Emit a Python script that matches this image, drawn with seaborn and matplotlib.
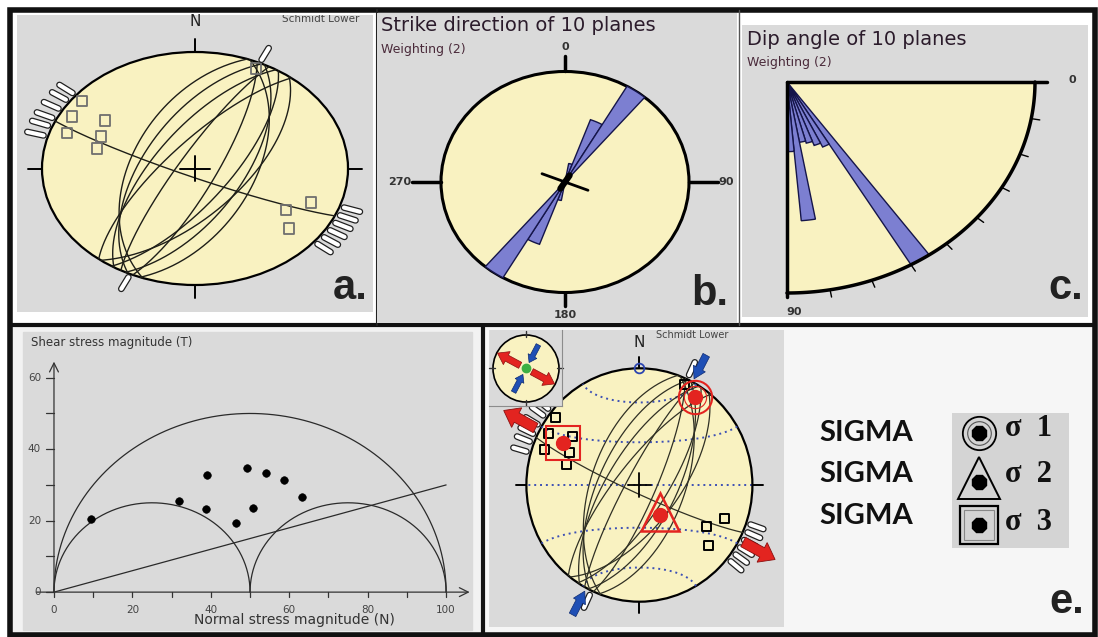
import numpy as np
import matplotlib
matplotlib.use("Agg")
import matplotlib.pyplot as plt
import seaborn as sns
from matplotlib.patches import Circle, Rectangle, FancyArrow

sns.set_style("white")
plt.rcParams["font.family"] = ["DejaVu Sans"]

# ---------------- data ----------------
# fault planes (strike, dip - right hand rule)
plane_strike = [200, 206, 212, 219, 209, 21, 27, 33, 38, 24]
plane_dip = [55, 61, 67, 74, 81, 57, 63, 70, 62, 78]

# open squares (trend / plunge)
pole_trend = [308, 299, 305, 290, 294, 285, 121, 111, 130, 25]
pole_plunge = [7, 9, 29, 12, 33, 34, 31, 20, 21, 6]

# white bars on the primitive (azimuth)
bar_az = [286, 291, 295, 300, 305, 309, 109, 113, 117, 121, 125, 129, 25, 205]

# sigma2 - sigma3 plane
s23_strike, s23_dip = 114, 84

# stress axes sigma1, sigma2, sigma3 (trend, plunge)
sigma_trend = [33, 145, 298]
sigma_plunge = [11, 64, 24]
shmin_az = 298
shmax_az = 28

# rose of strikes (10 deg bins, bidirectional)
strike_bin_lo = [10, 20, 30]
strike_bin_r = [0.17, 0.60, 1.00]

# rose of dips (5 deg bins)
dip_bin_lo = [55, 60, 65, 70, 75, 80, 85]
dip_bin_r = [1.00, 0.34, 0.32, 0.30, 0.29, 0.66, 0.33]

# Mohr diagram
mohr_center = [50, 25, 75]
mohr_radius = [50, 25, 25]
friction_slope = 0.3
normal_stress = [9.4, 31.9, 39.1, 38.8, 46.4, 49.1, 50.7, 54.0, 58.6, 63.3]
shear_stress = [20.5, 25.4, 32.7, 23.4, 19.3, 34.7, 23.5, 33.3, 31.4, 26.7]

# small circles about N axis in panel e
cone_angles = [30, 60, 90, 120, 150]

GRAY = "#dadada"
YELLOW = "#f9f2c1"
ROSE = "#7c7fd1"
RED = "#e32420"
BLUE = "#1f4fb5"

W, H = 1098, 637
fig = plt.figure(figsize=(W / 100, H / 100), dpi=100)
fig.patch.set_facecolor("white")


def add_ax(x0, y0, x1, y1, z=1):
    ax = fig.add_axes([x0 / W, 1 - y1 / H, (x1 - x0) / W, (y1 - y0) / H], zorder=z)
    ax.set_xticks([])
    ax.set_yticks([])
    for s in ax.spines.values():
        s.set_visible(False)
    return ax


def net_axes(box, cx, cy, rx, ry, z=1):
    ax = add_ax(*box, z=z)
    x0, y0, x1, y1 = box
    ax.set_xlim((x0 - cx) / rx, (x1 - cx) / rx)
    ax.set_ylim((cy - y1) / ry, (cy - y0) / ry)
    ax.set_facecolor(GRAY)
    return ax


def proj(trend, plunge):
    t = np.radians(trend)
    p = np.radians(plunge)
    r = np.sqrt(2) * np.sin((np.pi / 2 - p) / 2)
    return r * np.sin(t), r * np.cos(t)


def vec_proj(v):
    trend = np.degrees(np.arctan2(v[:, 0], v[:, 1]))
    plunge = np.degrees(np.arcsin(np.clip(v[:, 2], -1, 1)))
    return proj(trend, plunge)


def great_circle(strike, dip):
    s = np.radians(strike)
    d = np.radians(dip)
    dd = s + np.pi / 2
    a = np.linspace(0, np.pi, 200)
    S = np.array([np.sin(s), np.cos(s), 0])
    D = np.array([np.cos(d) * np.sin(dd), np.cos(d) * np.cos(dd), np.sin(d)])
    v = np.outer(np.cos(a), S) + np.outer(np.sin(a), D)
    return vec_proj(v)


def small_circle_n(alpha):
    a = np.radians(alpha)
    phi = np.linspace(0, np.pi, 200)
    v = np.column_stack([np.sin(a) * np.cos(phi), np.full(phi.size, np.cos(a)), np.sin(a) * np.sin(phi)])
    return vec_proj(v)


def polar(az, r):
    t = np.radians(az)
    return r * np.sin(t), r * np.cos(t)


def primitive(ax, lw=1.6):
    ax.add_patch(Circle((0, 0), 1, facecolor=YELLOW, edgecolor="black", lw=lw, zorder=1))


def bars(ax, r0, r1):
    for az in bar_az:
        x, y = polar(az, np.array([r0, r1]))
        ax.plot(x, y, color="#202020", lw=4.8, solid_capstyle="round", zorder=4, clip_on=False)
        ax.plot(x, y, color="white", lw=3.0, solid_capstyle="round", zorder=5, clip_on=False)


# ---------------- background frames ----------------
bg = fig.add_axes([0, 0, 1, 1], zorder=0)
bg.set_xlim(0, W)
bg.set_ylim(H, 0)
bg.axis("off")
bg.add_patch(Rectangle((12, 327), 469, 305, color="#f2f2f2"))
bg.add_patch(Rectangle((485, 327), 607, 305, color="#f6f6f6"))
bg.add_patch(Rectangle((23, 332), 449, 298, color=GRAY))
bg.add_patch(Rectangle((9.5, 9.5), 1085.5, 625, fill=False, ec="#111", lw=4))
bg.plot([10, 1095], [325, 325], color="#111", lw=3)
bg.plot([376.5, 376.5], [10, 325], color="#222", lw=1.5)
bg.plot([739, 739], [10, 325], color="#555", lw=1)
bg.plot([483, 483], [325, 634], color="#111", lw=3)

# ---------------- a. stereonet ----------------
axa = net_axes((17, 15, 373, 312), 195, 168.5, 153, 116.5)
primitive(axa)
axa.plot([0, 0], [1, 1.11], color="black", lw=1.4)
axa.plot([0, 0], [-1, -1.11], color="black", lw=1.4)
axa.plot([-1, -1.09], [0, 0], color="black", lw=1.4)
axa.plot([1, 1.09], [0, 0], color="black", lw=1.4)
axa.plot([-0.1, 0.1], [0, 0], color="black", lw=1.4, zorder=3)
axa.plot([0, 0], [-0.11, 0.11], color="black", lw=1.4, zorder=3)
for s, d in zip(plane_strike, plane_dip):
    gx, gy = great_circle(s, d)
    axa.plot(gx, gy, color="#1e1e18", lw=1.0, zorder=2)
gx, gy = great_circle(s23_strike, s23_dip)
axa.plot(gx, gy, color="#1e1e18", lw=1.0, zorder=2)
px, py = proj(np.array(pole_trend), np.array(pole_plunge))
axa.scatter(px, py, marker="s", s=55, facecolors="none", edgecolors="#6f6f6f", linewidths=1.3, zorder=3)
bars(axa, 1.03, 1.14)
axa.text(0, 1.26, "N", ha="center", va="center", fontsize=11, color="#222")
axa.text(0.745, 0.987, "Schmidt Lower", transform=axa.transAxes, fontsize=7.5, color="#444",
         ha="left", va="center", clip_on=True)
axa.text(0.985, 0.015, "a.", transform=axa.transAxes, ha="right", va="bottom", fontsize=30,
         fontweight="bold", family="Liberation Sans", color="#222")

# ---------------- b. rose of strikes ----------------
axb = net_axes((377, 13, 737, 323), 565, 182, 124, 110.5)
primitive(axb, lw=2.2)
for lo, r in zip(strike_bin_lo, strike_bin_r):
    for off in (0, 180):
        th = np.linspace(lo + off, lo + off + 10, 20)
        wx, wy = polar(th, r)
        axb.fill(np.r_[0, wx], np.r_[0, wy], facecolor=ROSE, edgecolor="#15154a", lw=1, zorder=2)
cx, cy = polar(np.array([shmin_az - 186, shmin_az - 6]), 0.2)
axb.plot(cx, cy, color="black", lw=2, zorder=3)
cx, cy = polar(np.array([shmax_az + 4, shmax_az + 184]), 0.07)
axb.plot(cx, cy, color="black", lw=4.5, zorder=3)
axb.plot([0, 0], [1, 1.14], color="black", lw=2.5)
axb.plot([0, 0], [-1, -1.12], color="black", lw=2.5)
axb.plot([-1, -1.23], [0, 0], color="black", lw=2.5)
axb.plot([1, 1.23], [0, 0], color="black", lw=2.5)
axb.text(0, 1.22, "0", ha="center", va="center", fontsize=8, fontweight="bold", color="#333")
axb.text(0, -1.2, "180", ha="center", va="center", fontsize=8, fontweight="bold", color="#333")
axb.text(-1.24, 0, "270", ha="right", va="center", fontsize=8, fontweight="bold", color="#333")
axb.text(1.24, 0, "90", ha="left", va="center", fontsize=8, fontweight="bold", color="#333")
axb.text(0.011, 0.961, "Strike direction of 10 planes", transform=axb.transAxes, fontsize=14,
         color="#2b1b2b", ha="left", va="center", clip_on=True)
axb.text(0.011, 0.881, "Weighting (2)", transform=axb.transAxes, fontsize=9,
         color="#4a2a3a", ha="left", va="center")
axb.text(0.975, 0.03, "b.", transform=axb.transAxes, ha="right", va="bottom", fontsize=30,
         fontweight="bold", family="Liberation Sans", color="#222")

# ---------------- c. rose of dips ----------------
axc = add_ax(742, 25, 1088, 317)
axc.set_xlim((742 - 787) / 248, (1088 - 787) / 248)
axc.set_ylim((82 - 317) / 211, (82 - 25) / 211)
axc.set_facecolor(GRAY)
th = np.radians(np.linspace(0, 90, 100))
axc.fill(np.r_[0, np.cos(th)], np.r_[0, -np.sin(th)], facecolor=YELLOW, edgecolor="none", zorder=1)
for lo, r in zip(dip_bin_lo, dip_bin_r):
    t = np.radians(np.linspace(lo, lo + 5, 10))
    axc.fill(np.r_[0, r * np.cos(t)], np.r_[0, -r * np.sin(t)], facecolor=ROSE, edgecolor="#15154a", lw=1, zorder=2)
axc.plot(np.cos(th), -np.sin(th), color="black", lw=2.5, zorder=3)
axc.plot([0, 1.05], [0, 0], color="black", lw=2.5, zorder=3)
axc.plot([0, 0], [0, -1.02], color="black", lw=2.5, zorder=3)
for a in range(10, 90, 10):
    t = np.radians(a)
    axc.plot([np.cos(t), 1.035 * np.cos(t)], [-np.sin(t), -1.035 * np.sin(t)], color="black", lw=1, zorder=3)
axc.text(1.15, 0.01, "0", ha="center", va="center", fontsize=8, fontweight="bold", color="#333")
axc.text(0.03, -1.09, "90", ha="center", va="center", fontsize=8, fontweight="bold", color="#333")
axc.text(0.014, 0.949, "Dip angle of 10 planes", transform=axc.transAxes, fontsize=14,
         color="#2b1b2b", ha="left", va="center")
axc.text(0.014, 0.873, "Weighting (2)", transform=axc.transAxes, fontsize=9,
         color="#4a2a3a", ha="left", va="center")
axc.text(0.985, 0.03, "c.", transform=axc.transAxes, ha="right", va="bottom", fontsize=30,
         fontweight="bold", family="Liberation Sans", color="#222")

# ---------------- d. Mohr diagram ----------------
axd = add_ax(23, 332, 472, 630)
axd.set_xlim(-7.9, 106.6)
axd.set_ylim(-10.6, 72.8)
axd.set_facecolor(GRAY)
t = np.linspace(0, np.pi, 300)
for c, R in zip(mohr_center, mohr_radius):
    axd.plot(c + R * np.cos(t), R * np.sin(t), color="#2a2a2a", lw=0.9)
xs = np.array([0, 100])
axd.plot(xs, friction_slope * xs, color="#2a2a2a", lw=0.9)
sns.scatterplot(x=normal_stress, y=shear_stress, color="black", s=30, edgecolor="black", ax=axd, zorder=3)
arrow = dict(arrowstyle="->", lw=0.9, color="#333", mutation_scale=16, shrinkA=0, shrinkB=0)
axd.annotate("", xy=(106, 0), xytext=(-4.5, 0), arrowprops=arrow)
axd.annotate("", xy=(0, 64.5), xytext=(0, 0), arrowprops=arrow)
for v in range(0, 61, 10):
    axd.plot([-2, 0], [v, v], color="#333", lw=0.9)
for v in range(0, 61, 20):
    axd.text(-3.3, v, str(v), ha="right", va="center", fontsize=7.5, color="#444")
for v in range(0, 101, 10):
    axd.plot([v, v], [0, -1.4], color="#333", lw=0.9)
for v in range(0, 101, 20):
    axd.text(v, -4.9, str(v), ha="center", va="center", fontsize=7.5, color="#444")
axd.text(-5.8, 69.8, "Shear stress magnitude (T)", ha="left", va="center", fontsize=8.5, color="#333")
axd.text(61.3, -7.9, "Normal stress magnitude (N)", ha="center", va="center", fontsize=10, color="#333")

# ---------------- e. stress tensor ----------------
axe = net_axes((489, 330, 784, 627), 639.4, 485, 113, 116.7)
primitive(axe)
for a in cone_angles:
    sx, sy = small_circle_n(a)
    axe.plot(sx, sy, color="#3d50b5", lw=1.4, ls=(0, (1, 2)), zorder=2)
for s, d in zip(plane_strike, plane_dip):
    gx, gy = great_circle(s, d)
    axe.plot(gx, gy, color="#303024", lw=0.9, zorder=2)
gx, gy = great_circle(s23_strike, s23_dip)
axe.plot(gx, gy, color="#303024", lw=0.9, zorder=2)
axe.plot([0, 0], [1, 1.1], color="black", lw=1.4)
axe.plot([0, 0], [-1, -1.1], color="black", lw=1.4)
axe.plot([-1, -1.09], [0, 0], color="black", lw=1.4)
axe.plot([1, 1.09], [0, 0], color="black", lw=1.4)
axe.plot([-0.1, 0.1], [0, 0], color="black", lw=1.3, zorder=3)
axe.plot([0, 0], [-0.1, 0.1], color="black", lw=1.3, zorder=3)
axe.plot([0], [1], marker="o", ms=7, mfc="none", mec="#2c45b0", mew=1.3, zorder=4)
px, py = proj(np.array(pole_trend), np.array(pole_plunge))
axe.scatter(px, py, marker="s", s=42, facecolors="none", edgecolors="black", linewidths=1.4, zorder=4)
bars(axe, 1.04, 1.16)
sx, sy = proj(np.array(sigma_trend), np.array(sigma_plunge))
axe.plot(sx[0], sy[0], "o", ms=24, mfc="none", mec=RED, mew=1.5, zorder=6)
axe.plot(sx[0], sy[0], "o", ms=16, mfc="none", mec=RED, mew=0.8, zorder=6)
axe.plot(sx[1], sy[1] + 0.03, "^", ms=28, mfc="none", mec=RED, mew=1.8, zorder=6)
axe.plot(sx[2], sy[2], "s", ms=25, mfc="none", mec=RED, mew=1.5, zorder=6)
axe.plot(sx, sy, "o", ms=10, color=RED, zorder=7)
for az in (shmin_az, shmin_az - 180):
    x0, y0 = polar(az, 1.04)
    x1, y1 = polar(az, 1.36)
    axe.add_patch(FancyArrow(x0, y0, x1 - x0, y1 - y0, width=0.09, head_width=0.19, head_length=0.13,
                             length_includes_head=True, fc=RED, ec="#8a1010", lw=0.6, zorder=7, clip_on=False))
for az in (shmax_az, shmax_az + 180):
    x0, y0 = polar(az, 1.26)
    x1, y1 = polar(az, 1.03)
    axe.add_patch(FancyArrow(x0, y0, x1 - x0, y1 - y0, width=0.065, head_width=0.12, head_length=0.1,
                             length_includes_head=True, fc=BLUE, ec="#0d2a70", lw=0.5, zorder=7, clip_on=False))
axe.text(0, 1.22, "N", ha="center", va="center", fontsize=11, color="#222")
axe.text(0.69, 0.983, "Schmidt Lower", transform=axe.transAxes, fontsize=7, color="#444", ha="center", va="center")

# inset with horizontal stress directions
axi = net_axes((489, 330, 562, 406), 526, 368.5, 33, 33.5, z=3)
axi.spines["right"].set_visible(True)
axi.spines["bottom"].set_visible(True)
axi.spines["right"].set_color("#8c8c8c")
axi.spines["bottom"].set_color("#8c8c8c")
primitive(axi, lw=1.2)
for az in (0, 90, 180, 270):
    tx, ty = polar(az, np.array([0.95, 1.12]))
    axi.plot(tx, ty, color="#333", lw=1, clip_on=False)
for az in (shmin_az, shmin_az - 180):
    x0, y0 = polar(az, 0.2)
    x1, y1 = polar(az, 0.98)
    axi.add_patch(FancyArrow(x0, y0, x1 - x0, y1 - y0, width=0.2, head_width=0.44, head_length=0.32,
                             length_includes_head=True, fc=RED, ec="#8a1010", lw=0.5, zorder=3))
for az in (shmax_az, shmax_az + 180):
    x0, y0 = polar(az, 0.8)
    x1, y1 = polar(az, 0.2)
    axi.add_patch(FancyArrow(x0, y0, x1 - x0, y1 - y0, width=0.15, head_width=0.3, head_length=0.22,
                             length_includes_head=True, fc=BLUE, ec="#0d2a70", lw=0.5, zorder=3))
axi.plot([0], [0], "o", ms=6, color="#3cb043", zorder=4)

# legend
for yy in (433, 474, 516):
    bg.text(819, yy, "SIGMA", ha="left", va="center", fontsize=21, fontweight="bold",
            family="Lato", color="#111")
axl = add_ax(952, 413, 1069, 548, z=2)
axl.set_xlim(952, 1069)
axl.set_ylim(548, 413)
axl.set_facecolor("#d4d4d4")
axl.plot(979.5, 433, "o", ms=24, mfc="none", mec="black", mew=1.3)
axl.plot(979.5, 433, "o", ms=17, mfc="none", mec="#555", mew=0.8)
axl.plot(979.5, 478, "^", ms=30, mfc="none", mec="black", mew=1.4)
axl.plot(979.5, 525, "s", ms=27, mfc="none", mec="black", mew=1.6)
axl.plot(979.5, 525, "s", ms=21, mfc="none", mec="#888", mew=0.8)
for yy in (433, 482, 525):
    axl.plot(979.5, yy, "8", ms=11, color="black")
for yy, lab in zip((428, 475, 522), ("σ  1", "σ  2", "σ  3")):
    axl.text(1005, yy, lab, ha="left", va="center", fontsize=22, fontweight="bold",
             family="Liberation Serif", color="#111")
bg.text(1084, 613, "e.", ha="right", va="baseline", fontsize=30, fontweight="bold",
        family="Liberation Sans", color="#222")

fig.savefig("out.png", dpi=100, facecolor=fig.get_facecolor())
